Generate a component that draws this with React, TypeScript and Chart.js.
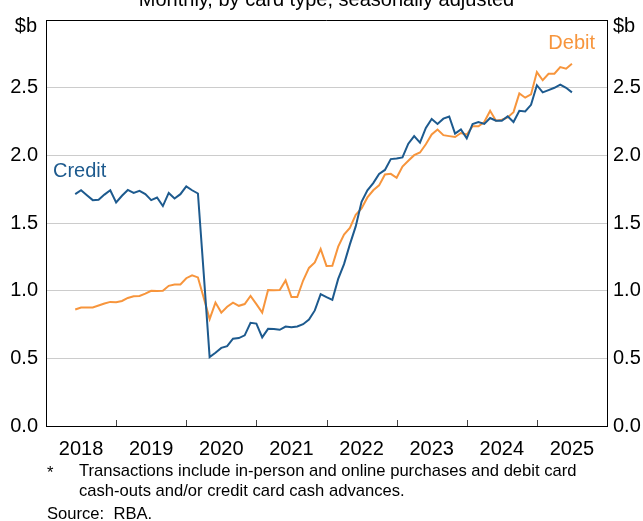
import React, { useEffect, useRef } from 'react';
import { Chart, registerables } from 'chart.js';

Chart.register(...registerables);

// Month-end positions, counted in months from the start of 2018 (May 2018 = 5)
const START_MONTH = 5;
const yearLabels = ['2018', '2019', '2020', '2021', '2022', '2023', '2024', '2025'];
const yTickValues = [0, 0.5, 1, 1.5, 2, 2.5, 3];

const credit = [
  1.713, 1.742, 1.705, 1.669, 1.672, 1.710, 1.742, 1.652, 1.701, 1.744,
  1.722, 1.737, 1.713, 1.669, 1.688, 1.625, 1.722, 1.681, 1.713, 1.771,
  1.742, 1.718, 1.120, 0.509, 0.541, 0.577, 0.590, 0.645, 0.650, 0.670,
  0.762, 0.757, 0.655, 0.718, 0.716, 0.711, 0.735, 0.730, 0.735, 0.752,
  0.786, 0.854, 0.974, 0.952, 0.932, 1.087, 1.196, 1.342, 1.475, 1.657,
  1.742, 1.795, 1.863, 1.892, 1.972, 1.977, 1.985, 2.086, 2.142, 2.094,
  2.203, 2.268, 2.232, 2.271, 2.287, 2.160, 2.191, 2.125, 2.232, 2.246,
  2.232, 2.276, 2.256, 2.256, 2.288, 2.246, 2.329, 2.324, 2.373, 2.518,
  2.465, 2.482, 2.499, 2.523, 2.499, 2.465,
];

const debit = [
  0.861, 0.876, 0.876, 0.876, 0.890, 0.905, 0.917, 0.915, 0.924, 0.946,
  0.958, 0.961, 0.978, 0.999, 0.997, 0.999, 1.036, 1.046, 1.046, 1.092,
  1.113, 1.098, 0.946, 0.790, 0.912, 0.838, 0.881, 0.912, 0.888, 0.901,
  0.961, 0.900, 0.838, 1.005, 1.003, 1.004, 1.076, 0.953, 0.953, 1.075,
  1.168, 1.208, 1.308, 1.183, 1.184, 1.325, 1.414, 1.463, 1.560, 1.608,
  1.689, 1.742, 1.778, 1.858, 1.863, 1.834, 1.917, 1.960, 2.001, 2.021,
  2.082, 2.154, 2.191, 2.149, 2.142, 2.135, 2.165, 2.154, 2.215, 2.215,
  2.246, 2.329, 2.256, 2.263, 2.280, 2.319, 2.458, 2.426, 2.450, 2.615,
  2.555, 2.603, 2.603, 2.652, 2.640, 2.676,
];

const titleText = 'Monthly, by card type, seasonally adjusted';
const unitText = '$b';
const footnoteLines = [
  'Transactions include in-person and online purchases and debit card',
  'cash-outs and/or credit card cash advances.',
];
const sourceText = 'Source:  RBA.';

const FONT = "Arial, 'Liberation Sans', sans-serif";
const BLUE = '#1d5a8e';
const ORANGE = '#f7953c';

export default function App() {
  const ref = useRef<HTMLCanvasElement>(null);

  useEffect(() => {
    if (!ref.current) return;
    const toPts = (arr: number[]) => arr.map((v, i) => ({ x: START_MONTH + i, y: v }));

    const overlay = {
      id: 'overlay',
      afterDraw(chart: any) {
        const { ctx, chartArea } = chart;
        const xs = chart.scales.x;
        const { left, right, top, bottom } = chartArea;
        ctx.save();
        // frame top
        ctx.strokeStyle = '#000';
        ctx.lineWidth = 1;
        ctx.beginPath();
        ctx.moveTo(left, top + 0.5);
        ctx.lineTo(right, top + 0.5);
        ctx.stroke();
        // year tick marks (inside)
        ctx.strokeStyle = '#444';
        for (let k = 1; k < yearLabels.length; k++) {
          const px = Math.round(xs.getPixelForValue(12 * k)) + 0.5;
          ctx.beginPath();
          ctx.moveTo(px, bottom);
          ctx.lineTo(px, bottom - 6);
          ctx.stroke();
        }
        // title (partly cut off at top)
        ctx.fillStyle = '#000';
        ctx.font = `20px ${FONT}`;
        ctx.textAlign = 'center';
        ctx.textBaseline = 'alphabetic';
        ctx.fillText(titleText, (left + right) / 2, 6);
        // units
        ctx.textBaseline = 'middle';
        ctx.textAlign = 'right';
        ctx.fillText(unitText, left - 9, 26);
        ctx.textAlign = 'left';
        ctx.fillText(unitText, right + 6, 26);
        // series labels
        ctx.fillStyle = BLUE;
        ctx.textAlign = 'left';
        ctx.fillText('Credit', 53, 171);
        ctx.fillStyle = ORANGE;
        ctx.textAlign = 'right';
        ctx.fillText('Debit', 595, 43);
        // footnotes
        ctx.fillStyle = '#000';
        ctx.font = `16.6px ${FONT}`;
        ctx.textAlign = 'left';
        ctx.fillText('*', 47, 473);
        ctx.fillText(footnoteLines[0], 79, 471);
        ctx.fillText(footnoteLines[1], 79, 491);
        ctx.fillText(sourceText, 47, 514);
        ctx.restore();
      },
    };

    const yTickCb = (v: any) => (Number(v) >= 3 ? '' : Number(v).toFixed(1));

    const chart = new Chart(ref.current, {
      type: 'line',
      data: {
        datasets: [
          { label: 'Credit', data: toPts(credit), borderColor: BLUE, borderWidth: 2, pointRadius: 0, tension: 0, fill: false },
          { label: 'Debit', data: toPts(debit), borderColor: ORANGE, borderWidth: 2, pointRadius: 0, tension: 0, fill: false },
        ],
      },
      options: {
        responsive: false,
        animation: false,
        devicePixelRatio: 1,
        layout: { padding: { top: 14, left: 0, right: 0, bottom: 0 } },
        plugins: { legend: { display: false }, tooltip: { enabled: false }, title: { display: false } },
        scales: {
          x: {
            type: 'linear',
            min: 0,
            max: 96,
            grid: { display: false, drawTicks: false },
            border: { display: true, color: '#000', width: 1 },
            ticks: {
              autoSkip: false,
              maxRotation: 0,
              padding: 11,
              color: '#000',
              font: { family: FONT, size: 20 },
              callback: (v: any) => yearLabels[Math.round((Number(v) - 6) / 12)] ?? '',
            },
            afterBuildTicks: (s: any) => {
              s.ticks = yearLabels.map((_, i) => ({ value: 6 + 12 * i }));
            },
            afterFit: (s: any) => {
              s.height = 95;
            },
          },
          y: {
            position: 'left',
            min: 0,
            max: 3,
            afterBuildTicks: (s: any) => {
              s.ticks = yTickValues.map((v) => ({ value: v }));
            },
            ticks: { padding: 8, color: '#000', font: { family: FONT, size: 20 }, callback: yTickCb },
            grid: { color: '#cccccc', drawTicks: false, lineWidth: 1 },
            border: { display: true, color: '#000', width: 1 },
            afterFit: (s: any) => {
              s.width = 46;
            },
          },
          y2: {
            position: 'right',
            min: 0,
            max: 3,
            afterBuildTicks: (s: any) => {
              s.ticks = yTickValues.map((v) => ({ value: v }));
            },
            ticks: { padding: 6, color: '#000', font: { family: FONT, size: 20 }, callback: yTickCb },
            grid: { display: false, drawTicks: false },
            border: { display: true, color: '#000', width: 1 },
            afterFit: (s: any) => {
              s.width = 36;
            },
          },
        },
      },
      plugins: [overlay],
    } as any);

    return () => chart.destroy();
  }, []);

  return (
    <div style={{ position: 'fixed', left: 0, top: 0, width: 643, height: 521, background: '#fff' }}>
      <canvas ref={ref} width={643} height={521} style={{ display: 'block', width: 643, height: 521 }} />
    </div>
  );
}
